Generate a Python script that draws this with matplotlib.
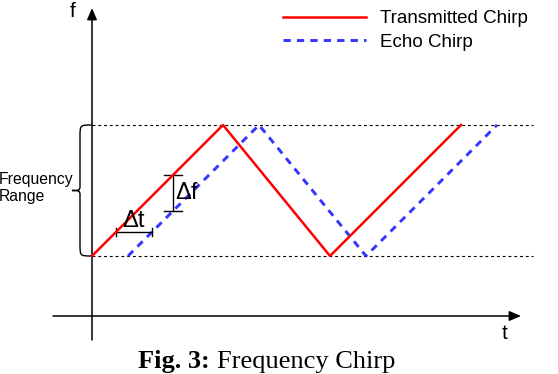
import numpy as np
import matplotlib
matplotlib.use('Agg')
import matplotlib.pyplot as plt
from matplotlib.path import Path
from matplotlib.patches import PathPatch

# chirp corner points (time units, normalised frequency)
t_tx = np.array([0.0, 1.31, 2.38, 3.69])
f_tx = np.array([0.0, 1.0, 0.0, 1.0])
delay = 0.36
t_echo = t_tx + delay
f_echo = f_tx.copy()
f_range = [0.0, 1.0]
labels = ['Transmitted Chirp', 'Echo Chirp']

slope = (f_tx[1] - f_tx[0]) / (t_tx[1] - t_tx[0])

plt.rcParams['font.family'] = ['Liberation Sans', 'DejaVu Sans']

fig = plt.figure(figsize=(5.58, 3.74), dpi=100)
ax = fig.add_axes([0, 0, 1, 1])
ax.axis('off')
# 1 time unit = 100 px, 1 freq unit = 131 px
ax.set_xlim(-0.92, 4.66)
ax.set_ylim(-118 / 131, 256 / 131)

# range lines
for f in f_range:
    ax.plot([0, 4.41], [f, f], color='black', lw=0.8, ls=(0, (2.6, 2.6)), zorder=1)

# axes with arrows
ax.annotate('', xy=(4.29, -0.458), xytext=(-0.39, -0.458),
            arrowprops=dict(arrowstyle='-|>,head_length=0.7,head_width=0.3',
                            color='black', lw=1.1, shrinkA=0, shrinkB=0))
ax.annotate('', xy=(0, 1.893), xytext=(0, -0.641),
            arrowprops=dict(arrowstyle='-|>,head_length=0.7,head_width=0.3',
                            color='black', lw=1.1, shrinkA=0, shrinkB=0))
ax.text(-0.19, 1.863, 'f', fontsize=15, ha='center', va='center')
ax.text(4.13, -0.588, 't', fontsize=15, ha='center', va='center')

# chirps
ax.plot(t_tx, f_tx, color='#ff0000', lw=1.8, label=labels[0], zorder=3)
ax.plot(t_echo, f_echo, color='#3535ff', lw=2.1, ls=(0, (2.5, 2.1)),
        label=labels[1], zorder=2)

# frequency range brace
sy = 1 / 131
mid = (f_range[0] + f_range[1]) / 2
verts = [(0, f_range[1]), (-0.12, f_range[1]), (-0.12, f_range[1]), (-0.12, f_range[1] - 12 * sy),
         (-0.12, mid + 4 * sy),
         (-0.12, mid), (-0.14, mid), (-0.20, mid),
         (-0.14, mid), (-0.12, mid), (-0.12, mid - 4 * sy),
         (-0.12, f_range[0] + 12 * sy),
         (-0.12, f_range[0]), (-0.12, f_range[0]), (0, f_range[0])]
codes = [Path.MOVETO, Path.CURVE4, Path.CURVE4, Path.CURVE4,
         Path.LINETO,
         Path.CURVE4, Path.CURVE4, Path.CURVE4,
         Path.CURVE4, Path.CURVE4, Path.CURVE4,
         Path.LINETO,
         Path.CURVE4, Path.CURVE4, Path.CURVE4]
ax.add_patch(PathPatch(Path(verts, codes), fc='none', ec='black', lw=1.0))
ax.text(-0.93, 0.52, 'Frequency\nRange', fontsize=11.3, ha='left', va='center',
        linespacing=1.2)

# delta t marker
f0 = 0.18
ta, tb = f0 / slope, f0 / slope + delay
ax.plot([ta, tb], [f0, f0], color='black', lw=1.0)
for t in (ta, tb):
    ax.plot([t, t], [f0 - 4 * sy, f0 + 4 * sy], color='black', lw=1.0)
ax.text((ta + tb) / 2, f0 + 0.09, '\u0394t', fontsize=17, ha='center', va='center')

# delta f marker
t0 = 0.81
fa, fb = (t0 - delay) * slope, t0 * slope
ax.plot([t0, t0], [fa, fb], color='black', lw=1.0)
for f in (fa, fb):
    ax.plot([t0 - 0.09, t0 + 0.09], [f, f], color='black', lw=1.0)
ax.text(t0 + 0.02, (fa + fb) / 2, '\u0394f', fontsize=17, ha='left', va='center')

ax.legend(loc='upper left', bbox_to_anchor=(283 / 558, 1 - 10 / 374),
          bbox_transform=fig.transFigure, frameon=False, fontsize=13.5,
          handlelength=4.4, handletextpad=0.8, labelspacing=0.35,
          borderpad=0, borderaxespad=0)

# caption
t1 = fig.text(138 / 558, 1 / 374, 'Fig. 3:', fontsize=19, fontweight='bold',
              family='Liberation Serif', ha='left', va='bottom')
ax.annotate('Frequency Chirp', xy=(1, 0), xycoords=t1, xytext=(5.5, 0),
            textcoords='offset points', fontsize=19, family='Liberation Serif',
            ha='left', va='bottom')

fig.savefig('out.png', dpi=100)
